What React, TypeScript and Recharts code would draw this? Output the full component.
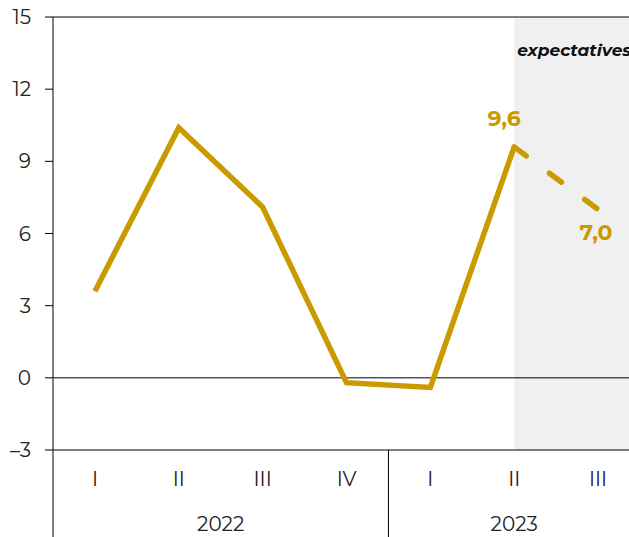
import React from 'react';
import { ComposedChart, Line, XAxis, YAxis, ReferenceArea, ReferenceLine, LabelList } from 'recharts';

const quarters = ['I', 'II', 'III', 'IV', 'I', 'II', 'III'];
const years = ['2022', '2023'];
const actualValues: (number | null)[] = [3.6, 10.4, 7.1, -0.2, -0.4, 9.6, null];
const forecastValues: (number | null)[] = [null, null, null, null, null, 9.6, 7.0];
const yTicks = [-3, 0, 3, 6, 9, 12, 15];
const shadeLabel = 'expectatives';

const GOLD = '#C99B00';
const FONT = 'Montserrat, "Open Sans", sans-serif';
const CHART_W = 640;
const CHART_H = 560;
const LEFT = 53;
const BW = (CHART_W - LEFT) / quarters.length;

const data = quarters.map((q, i) => ({
  x: i,
  q,
  actual: actualValues[i],
  forecast: forecastValues[i],
}));

const XTick = (props: any) => {
  const { x, y, payload } = props;
  const i = payload.value as number;
  return (
    <g>
      <text x={x} y={y + 29} textAnchor="middle" dominantBaseline="central" fontSize={20} fill="#222" fontFamily={FONT}>
        {quarters[i]}
      </text>
      {i === 0 && <line x1={x - BW / 2} x2={x - BW / 2} y1={y} y2={y + 120} stroke="#000" strokeWidth={1} />}
      {i === 4 && <line x1={x - BW / 2} x2={x - BW / 2} y1={y} y2={y + 120} stroke="#000" strokeWidth={1} />}
      {i === 1 && (
        <text x={x + BW / 2} y={y + 74} textAnchor="middle" dominantBaseline="central" fontSize={20} fill="#222" fontFamily={FONT}>
          {years[0]}
        </text>
      )}
      {i === 5 && (
        <text x={x} y={y + 74} textAnchor="middle" dominantBaseline="central" fontSize={20} fill="#222" fontFamily={FONT}>
          {years[1]}
        </text>
      )}
    </g>
  );
};

const ShadeLabel = (props: any) => {
  const vb = props.viewBox || {};
  return (
    <text x={vb.x + 3} y={vb.y + 33} dominantBaseline="central" fontSize={17} fontWeight="bold" fontStyle="italic" fill="#111" fontFamily={FONT}>
      {shadeLabel}
    </text>
  );
};

const ValueLabel = (props: any) => {
  const { x, y, value, index } = props;
  if (value == null) return null;
  const above = index === 5;
  return (
    <text
      x={above ? x - 10 : x - 2}
      y={above ? y - 28 : y + 23}
      textAnchor="middle"
      dominantBaseline="central"
      fontSize={22}
      fontWeight="bold"
      fill={GOLD}
      fontFamily={FONT}
    >
      {Number(value).toFixed(1).replace('.', ',')}
    </text>
  );
};

export default function App() {
  return (
    <div style={{ position: 'absolute', left: 0, top: 0, width: 629, height: 537, overflow: 'hidden', background: '#fff' }}>
      <ComposedChart width={CHART_W} height={CHART_H} data={data} margin={{ top: 17, right: 0, bottom: 0, left: 0 }}>
        <XAxis
          dataKey="x"
          type="number"
          domain={[-0.5, 6.5]}
          ticks={[0, 1, 2, 3, 4, 5, 6]}
          interval={0}
          height={CHART_H - 17 - 433}
          tickSize={0}
          tickMargin={0}
          tickLine={false}
          axisLine={{ stroke: '#000', strokeWidth: 1 }}
          tick={<XTick />}
        />
        <YAxis
          type="number"
          domain={[-3, 15]}
          ticks={yTicks}
          interval={0}
          width={LEFT}
          tickSize={8}
          tickMargin={14}
          axisLine={{ stroke: '#000', strokeWidth: 1 }}
          tickLine={{ stroke: '#000', strokeWidth: 1 }}
          tickFormatter={(v: number) => (v < 0 ? '–' + Math.abs(v) : String(v))}
          tick={{ fontSize: 20, fill: '#222', fontFamily: FONT }}
        />
        <ReferenceArea x1={5} x2={6.5} y1={-3} y2={15} fill="#F0F0F0" fillOpacity={1} stroke="none" label={<ShadeLabel />} />
        <ReferenceLine y={15} stroke="#000" strokeWidth={1} />
        <ReferenceLine y={0} stroke="#000" strokeWidth={1} />
        <Line
          dataKey="actual"
          stroke={GOLD}
          strokeWidth={5.5}
          dot={false}
          activeDot={false}
          isAnimationActive={false}
          connectNulls={false}
          strokeLinejoin="miter"
        />
        <Line
          dataKey="forecast"
          stroke={GOLD}
          strokeWidth={5.5}
          strokeDasharray="15 29"
          strokeLinecap="round"
          dot={false}
          activeDot={false}
          isAnimationActive={false}
        >
          <LabelList dataKey="forecast" content={<ValueLabel />} />
        </Line>
      </ComposedChart>
    </div>
  );
}
